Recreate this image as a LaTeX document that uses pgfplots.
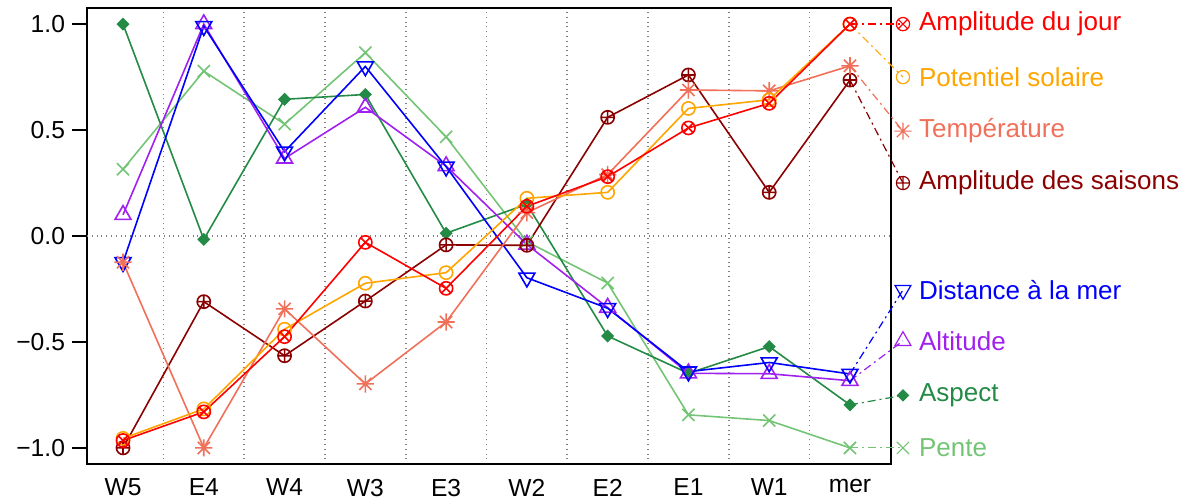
\documentclass[border=0pt]{standalone}
\usepackage{pgfplots}
\pgfplotsset{compat=1.18}
\usepackage{fontspec}
\setmainfont{Liberation Sans}
\definecolor{cAJ}{RGB}{255,0,0}
\definecolor{cPS}{RGB}{255,165,0}
\definecolor{cTE}{RGB}{240,112,90}
\definecolor{cAS}{RGB}{139,0,0}
\definecolor{cDM}{RGB}{0,0,255}
\definecolor{cAL}{RGB}{160,32,240}
\definecolor{cAP}{RGB}{35,139,69}
\definecolor{cPE}{RGB}{116,196,118}
\pgfdeclareplotmark{ast8}{%
  \pgfpathmoveto{\pgfqpoint{-\pgfplotmarksize}{0pt}}\pgfpathlineto{\pgfqpoint{\pgfplotmarksize}{0pt}}%
  \pgfpathmoveto{\pgfqpoint{0pt}{-\pgfplotmarksize}}\pgfpathlineto{\pgfqpoint{0pt}{\pgfplotmarksize}}%
  \pgfpathmoveto{\pgfqpoint{-.7071\pgfplotmarksize}{-.7071\pgfplotmarksize}}\pgfpathlineto{\pgfqpoint{.7071\pgfplotmarksize}{.7071\pgfplotmarksize}}%
  \pgfpathmoveto{\pgfqpoint{-.7071\pgfplotmarksize}{.7071\pgfplotmarksize}}\pgfpathlineto{\pgfqpoint{.7071\pgfplotmarksize}{-.7071\pgfplotmarksize}}%
  \pgfusepathqstroke}
\pgfplotstableread{
x AJ PS TE AS DM AL AP PE
0 -0.965 -0.955 -0.124 -1.000 -0.124 0.100 1.000 0.315
1 -0.830 -0.816 -1.000 -0.310 0.990 1.000 -0.016 0.778
2 -0.475 -0.440 -0.344 -0.565 0.398 0.366 0.645 0.528
3 -0.030 -0.223 -0.698 -0.307 0.800 0.607 0.668 0.865
4 -0.247 -0.173 -0.406 -0.042 0.327 0.330 0.013 0.468
5 0.140 0.178 0.110 -0.044 -0.197 -0.040 0.150 -0.027
6 0.280 0.206 0.290 0.560 -0.341 -0.338 -0.472 -0.222
7 0.510 0.602 0.689 0.760 -0.640 -0.648 -0.648 -0.844
8 0.626 0.643 0.685 0.206 -0.597 -0.650 -0.522 -0.871
9 1.000 1.000 0.803 0.736 -0.651 -0.683 -0.797 -1.000
}\datatable
\tikzset{conn/.style={line width=0.6pt, dash pattern=on 4pt off 2pt on 1pt off 2pt}}
\begin{document}
\begin{tikzpicture}
\begin{axis}[
  scale only axis, width=402pt, height=228pt,
  xmin=-0.446, xmax=9.508, ymin=-1.076, ymax=1.076,
  clip=false,
  xtick={0,...,9}, xticklabels={W5,E4,W4,W3,E3,W2,E2,E1,W1,mer},
  ytick={-1,-0.5,0,0.5,1}, yticklabels={−1.0,−0.5,0.0,0.5,1.0},
  tick align=outside, ytick pos=left, xtick pos=bottom,
  major tick length=7.5pt,
  major x tick style={draw=none},
  xticklabel style={yshift=3.5pt},
  minor xtick={0.5,1.5,...,8.5}, minor tick length=0pt,
  xminorgrids, minor grid style={dotted, gray, line width=0.8pt},
  extra y ticks={0}, extra y tick labels={},
  extra y tick style={grid=major, major grid style={dotted, gray, line width=0.8pt}},
  axis line style={line width=1pt},
  tick style={black, line width=1pt},
  tick label style={font=\fontsize{12.3}{14}\selectfont},
  every axis plot/.append style={line width=0.8pt},
]
\addplot[cPE, mark=x, mark size=4.3pt] table[x=x,y=PE]{\datatable};
\addplot[cAP, mark=square*, mark options={rotate=45}, mark size=1.9pt] table[x=x,y=AP]{\datatable};
\addplot[cAL, mark=triangle, mark size=4.6pt] table[x=x,y=AL]{\datatable};
\addplot[cDM, mark=triangle, mark options={rotate=180}, mark size=4.6pt] table[x=x,y=DM]{\datatable};
\addplot[cAS, mark=oplus, mark size=3.3pt] table[x=x,y=AS]{\datatable};
\addplot[cTE, mark=ast8, mark size=4.3pt] table[x=x,y=TE]{\datatable};
\addplot[cPS, mark=o, mark size=3.3pt] table[x=x,y=PS]{\datatable};
\addplot[cAJ, mark=otimes, mark size=3.3pt] table[x=x,y=AJ]{\datatable};
% connectors to the labels
\addplot[cAJ, conn, mark=otimes, mark indices={2}, mark size=3.3pt, mark options={solid}] coordinates {(9,1.0) (9.656,1.0)};
\addplot[cPS, conn, mark=o, mark indices={2}, mark size=3.3pt, mark options={solid}] coordinates {(9,1.0) (9.656,0.75)};
\addplot[cTE, conn, mark=ast8, mark indices={2}, mark size=4.3pt, mark options={solid}] coordinates {(9,0.803) (9.656,0.495)};
\addplot[cAS, conn, mark=oplus, mark indices={2}, mark size=3.3pt, mark options={solid}] coordinates {(9,0.736) (9.656,0.25)};
\addplot[cDM, conn, mark=triangle, mark indices={2}, mark size=4.6pt, mark options={solid,rotate=180}] coordinates {(9,-0.651) (9.656,-0.255)};
\addplot[cAL, conn, mark=triangle, mark indices={2}, mark size=4.6pt, mark options={solid}] coordinates {(9,-0.683) (9.656,-0.495)};
\addplot[cAP, conn, mark=square*, mark indices={2}, mark size=1.9pt, mark options={solid,rotate=45}] coordinates {(9,-0.797) (9.656,-0.752)};
\addplot[cPE, conn, mark=x, mark indices={2}, mark size=4.3pt, mark options={solid}] coordinates {(9,-1.0) (9.656,-1.0)};
\begin{scope}[every node/.style={anchor=west, font=\fontsize{13}{15}\selectfont, xshift=4.5pt}]
\node[text=cAJ] at (axis cs:9.656,1.0) {Amplitude du jour};
\node[text=cPS] at (axis cs:9.656,0.75) {Potentiel solaire};
\node[text=cTE] at (axis cs:9.656,0.495) {Température};
\node[text=cAS] at (axis cs:9.656,0.25) {Amplitude des saisons};
\node[text=cDM] at (axis cs:9.656,-0.255) {Distance à la mer};
\node[text=cAL] at (axis cs:9.656,-0.495) {Altitude};
\node[text=cAP] at (axis cs:9.656,-0.752) {Aspect};
\node[text=cPE] at (axis cs:9.656,-1.0) {Pente};
\end{scope}
\coordinate (sw) at (rel axis cs:0,0);
\coordinate (ne) at (rel axis cs:1,1);
\end{axis}
\pgfresetboundingbox
\path[use as bounding box] ([shift={(-43.5pt,-19pt)}]sw) rectangle ([shift={(147pt,4pt)}]ne);
\end{tikzpicture}
\end{document}
